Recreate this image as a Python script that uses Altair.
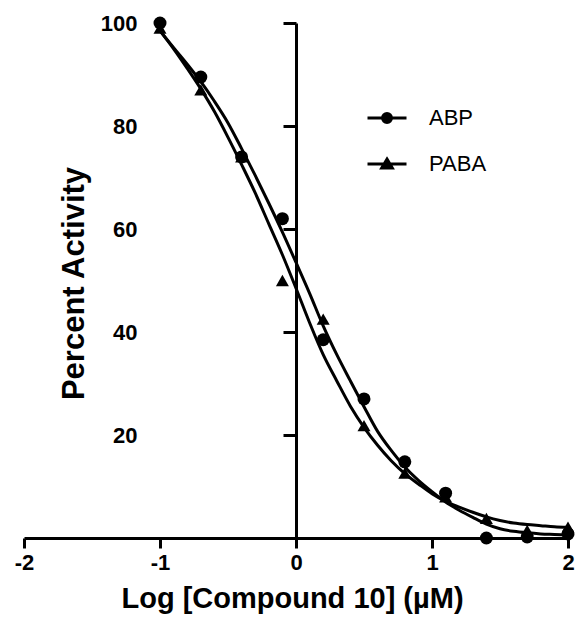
import altair as alt
import pandas as pd

# ---- data ----
series = ["ABP", "PABA"]
dose_log = [-1.0, -0.7, -0.4, -0.1, 0.2, 0.5, 0.8, 1.1, 1.4, 1.7, 2.0]
abp_activity = [100, 89.5, 74, 62, 38.5, 27, 14.8, 8.7, 0, 0.2, 0.8]
paba_activity = [99, 87, 74, 50, 42.5, 21.8, 12.6, 8, 3.8, 1.5, 2.1]

fit_x = [-1.0, -0.9, -0.8, -0.7, -0.6, -0.5, -0.4, -0.3, -0.2, -0.1, 0.0,
         0.1, 0.2, 0.3, 0.4, 0.5, 0.6, 0.7, 0.8, 0.9, 1.0,
         1.1, 1.2, 1.3, 1.4, 1.5, 1.6, 1.7, 1.8, 1.9, 2.0]
abp_fit = [98.5, 95.2, 92, 88.6, 84.8, 80.6, 75.6, 70.4, 65, 59.4, 53.5,
           47.5, 41.2, 35.6, 30.5, 25.5, 20.7, 17, 13.8, 11.2, 9,
           7, 5.4, 4, 2.7, 1.8, 1.3, 1.0, 0.8, 0.7, 0.6]
paba_fit = [98.5, 95, 91.2, 87.2, 82.8, 77.8, 72.5, 67, 61, 55, 48.5,
            41.8, 35.6, 30.5, 25.6, 21.5, 18, 15, 12.5, 10.5, 8.6,
            7.1, 6, 5, 4.1, 3.4, 2.9, 2.6, 2.4, 2.2, 2.1]

x_ticks = [-2, -1, 0, 1, 2]
y_ticks = [20, 40, 60, 80, 100]

pts = pd.DataFrame({
    "x": dose_log + dose_log,
    "y": abp_activity + paba_activity,
    "series": [series[0]] * len(dose_log) + [series[1]] * len(dose_log),
})
fit = pd.DataFrame({
    "x": fit_x + fit_x,
    "y": abp_fit + paba_fit,
    "series": [series[0]] * len(fit_x) + [series[1]] * len(fit_x),
})

FONT = "Liberation Sans"
W, H = 544, 515

x_axis = alt.Axis(
    values=x_ticks, labelExpr="'' + datum.value", title="Log [Compound 10] (µM)",
    grid=False, domainColor="black", domainWidth=3, tickColor="black", tickWidth=3,
    tickSize=10, labelFont=FONT, labelFontSize=22, labelFontWeight="bold",
    labelColor="black", labelPadding=4, labelFlush=False,
    titleFont=FONT, titleFontSize=29, titleFontWeight="bold", titleColor="black",
    titleBaseline="alphabetic", titleX=268, titleY=69,
)
y_axis = alt.Axis(
    values=y_ticks, title="Percent Activity", offset=-W / 2,
    grid=False, domainColor="black", domainWidth=3, tickColor="black", tickWidth=3,
    tickSize=13, labelFont=FONT, labelFontSize=22, labelFontWeight="bold",
    labelColor="black", labelPadding=146,
    titleFont=FONT, titleFontSize=31, titleFontWeight="bold", titleColor="black",
    titleBaseline="alphabetic", titleAngle=270, titleX=-213, titleY=260,
)

xs = alt.X("x:Q", scale=alt.Scale(domain=[-2, 2], nice=False, zero=False), axis=x_axis)
ys = alt.Y("y:Q", scale=alt.Scale(domain=[0, 100], nice=False), axis=y_axis)

curves = alt.Chart(fit).mark_line(
    color="black", strokeWidth=3, interpolate="monotone"
).encode(x=xs, y=ys, detail="series:N")

points = alt.Chart(pts).mark_point(
    filled=True, color="black", opacity=1, size=169
).encode(
    x=xs, y=ys,
    shape=alt.Shape("series:N", scale=alt.Scale(domain=series, range=["circle", "triangle-up"]), legend=None),
)

circle_path = "M-1,0L1,0M0.23,0A0.23,0.23,0,1,1,-0.23,0A0.23,0.23,0,1,1,0.23,0Z"
tri_path = "M-1,0L1,0M0,-0.25L0.27,0.2L-0.27,0.2Z"

legend_layer = alt.Chart(pts).mark_point(
    filled=True, fill="black", stroke="black", strokeWidth=3, opacity=0
).encode(
    x=xs, y=ys,
    shape=alt.Shape(
        "series:N",
        scale=alt.Scale(domain=series, range=[circle_path, tri_path]),
        legend=alt.Legend(
            title=None, orient="none", legendX=342, legendY=74, padding=0,
            symbolSize=1521, symbolStrokeWidth=3, symbolOpacity=1,
            labelFont=FONT, labelFontSize=22, labelFontWeight="normal",
            labelColor="black", labelOffset=21, rowPadding=14,
        ),
    ),
)

chart = alt.layer(curves, points, legend_layer).resolve_scale(
    shape="independent"
).properties(
    width=W, height=H,
    autosize=alt.AutoSizeParams(type="none"),
    padding={"left": 16, "top": 15, "right": 8, "bottom": 80},
    background="white",
).configure_view(stroke=None)

chart.save("out.html", embed_options={"renderer": "svg", "actions": False})
